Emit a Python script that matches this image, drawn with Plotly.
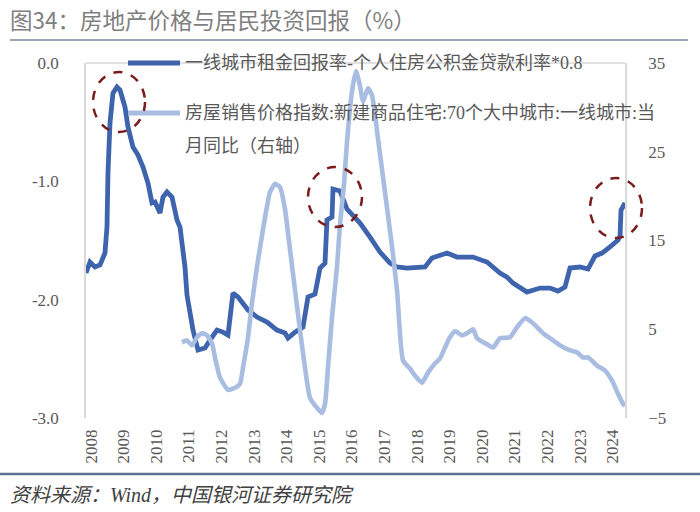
import plotly.graph_objects as go

# ---------------- data ----------------
rent_x = [2007.847, 2007.969, 2008.123, 2008.276, 2008.429, 2008.491, 2008.521, 2008.583, 2008.675, 2008.798,
          2008.890, 2009.043, 2009.135, 2009.288, 2009.442, 2009.595, 2009.748, 2009.871, 2009.963, 2010.117,
          2010.209, 2010.331, 2010.485, 2010.577, 2010.638, 2010.730, 2010.883, 2010.945, 2011.129, 2011.282,
          2011.497, 2011.650, 2011.865, 2012.049, 2012.202, 2012.356, 2012.509, 2012.816, 2013.092, 2013.399,
          2013.706, 2013.951, 2014.043, 2014.258, 2014.503, 2014.656, 2014.871, 2015.025, 2015.178, 2015.239,
          2015.393, 2015.423, 2015.638, 2015.853, 2016.252, 2016.558, 2016.865, 2017.172, 2017.387, 2017.693,
          2018.000, 2018.245, 2018.460, 2018.920, 2019.227, 2019.718, 2020.147, 2020.546, 2020.761, 2020.945,
          2021.374, 2021.558, 2021.773, 2022.080, 2022.325, 2022.540, 2022.693, 2023.000, 2023.245, 2023.460,
          2023.675, 2023.920, 2024.166, 2024.227, 2024.258, 2024.380]
rent_y = [-1.775, -1.682, -1.724, -1.707, -1.606, -1.386, -0.930, -0.507, -0.254, -0.203,
          -0.228, -0.372, -0.541, -0.710, -0.778, -0.879, -1.014, -1.183, -1.175, -1.268,
          -1.133, -1.090, -1.133, -1.268, -1.327, -1.386, -1.724, -1.961, -2.257, -2.426,
          -2.409, -2.342, -2.257, -2.274, -2.299, -1.944, -1.978, -2.088, -2.147, -2.190,
          -2.257, -2.282, -2.325, -2.274, -2.232, -1.978, -1.953, -1.733, -1.691, -1.327,
          -1.302, -1.065, -1.082, -1.234, -1.352, -1.471, -1.598, -1.691, -1.724, -1.733,
          -1.724, -1.724, -1.648, -1.606, -1.640, -1.640, -1.682, -1.775, -1.809, -1.860,
          -1.936, -1.919, -1.902, -1.902, -1.927, -1.893, -1.733, -1.724, -1.741, -1.631,
          -1.606, -1.555, -1.496, -1.462, -1.243, -1.183]

price_x = [2010.791, 2010.945, 2011.098, 2011.252, 2011.405, 2011.558, 2011.712, 2011.804, 2011.957, 2012.202,
           2012.417, 2012.571, 2012.663, 2012.816, 2012.939, 2013.092, 2013.276, 2013.491, 2013.644, 2013.798,
           2013.951, 2014.104, 2014.258, 2014.411, 2014.564, 2014.718, 2014.933, 2015.086, 2015.178, 2015.270,
           2015.393, 2015.546, 2015.638, 2015.761, 2015.853, 2016.006, 2016.129, 2016.252, 2016.344, 2016.497,
           2016.620, 2016.804, 2017.018, 2017.233, 2017.387, 2017.571, 2017.785, 2017.939, 2018.153, 2018.337,
           2018.552, 2018.706, 2018.859, 2019.012, 2019.166, 2019.380, 2019.534, 2019.718, 2019.840, 2020.147,
           2020.331, 2020.546, 2020.853, 2021.067, 2021.313, 2021.558, 2021.865, 2022.172, 2022.387, 2022.693,
           2022.908, 2023.092, 2023.245, 2023.521, 2023.767, 2023.982, 2024.166, 2024.319, 2024.380]
price_y = [3.52, 3.75, 3.18, 4.09, 4.55, 4.32, 3.41, 1.82, -0.45, -1.82,
           -1.59, -1.14, 0.68, 4.09, 7.95, 12.05, 16.25, 20.45, 21.36, 21.02,
           18.52, 13.98, 9.43, 4.89, 0.68, -2.73, -3.86, -4.43, -3.41, 0.68,
           6.36, 12.05, 16.82, 21.36, 26.14, 31.82, 34.09, 32.39, 30.68, 32.16,
           31.36, 26.48, 20.45, 14.32, 9.43, 1.48, 0.57, -0.23, -1.02, 0.11,
           1.14, 1.70, 2.95, 4.09, 4.77, 4.32, 4.55, 5.00, 3.98, 3.30,
           2.95, 3.98, 4.09, 5.23, 6.25, 5.68, 4.55, 3.75, 3.18, 2.61,
           2.39, 1.82, 1.82, 0.91, 0.34, -0.80, -2.27, -3.41, -3.64]

year_ticks = [2008 + i for i in range(17)]
year_labels = [str(y) for y in year_ticks]
left_ticks = [0, -1, -2, -3]
left_labels = ["0.0", "-1.0", "-2.0", "-3.0"]
right_ticks = [-5, 5, 15, 25, 35]

name_rent = "一线城市租金回报率-个人住房公积金贷款利率*0.8"
name_price_1 = "房屋销售价格指数:新建商品住宅:70个大中城市:一线城市:当"
name_price_2 = "月同比（右轴）"
title_text = "图34：房地产价格与居民投资回报（%）"
source_text = "<i>资料来源：Wind，中国银河证券研究院</i>"

# ---------------- styling ----------------
W, H = 700, 512
ML, MR, MT, MB = 86, 75, 63, 94
PW, PH = W - ML - MR, H - MT - MB
XR = [2007.847, 2024.38]
YL = [-3, 0]
YR = [-5, 35]
DARK = "#3d64ad"
LIGHT = "#a9bce2"
TXT = "#595959"
SERIF = "Liberation Serif, Noto Sans CJK SC, serif"
CJK = "Noto Sans CJK SC, sans-serif"


def px_x(px):
    return (px - ML) / PW


def px_y(py):
    return (H - MB - py) / PH


fig = go.Figure()
fig.add_trace(go.Scatter(x=rent_x, y=rent_y, mode="lines", name=name_rent,
                         line=dict(color=DARK, width=4.8), yaxis="y", showlegend=False))
fig.add_trace(go.Scatter(x=price_x, y=price_y, mode="lines", name=name_price_1 + name_price_2,
                         line=dict(color=LIGHT, width=4.6, shape="spline", smoothing=0.5),
                         yaxis="y2", showlegend=False))

shapes = []
# header rule, footer rule, top frame line
shapes.append(dict(type="line", xref="paper", yref="paper", x0=px_x(10), x1=px_x(688),
                   y0=px_y(40), y1=px_y(40), line=dict(color="#7d8a9a", width=1.5)))
shapes.append(dict(type="line", xref="paper", yref="paper", x0=px_x(0), x1=px_x(700),
                   y0=px_y(474), y1=px_y(474), line=dict(color="#5d7191", width=2.5)))
shapes.append(dict(type="line", xref="paper", yref="paper", x0=0, x1=1, y0=1, y1=1,
                   line=dict(color="#d9d9d9", width=1.5)))
# legend swatches
shapes.append(dict(type="line", xref="paper", yref="paper", x0=px_x(128), x1=px_x(180),
                   y0=px_y(63), y1=px_y(63), line=dict(color=DARK, width=5)))
shapes.append(dict(type="line", xref="paper", yref="paper", x0=px_x(128), x1=px_x(180),
                   y0=px_y(113), y1=px_y(113), line=dict(color=LIGHT, width=5)))


# highlight circles anchored to data points (converted to paper coords)
def to_paper(xv, yv):
    return (xv - XR[0]) / (XR[1] - XR[0]), (yv - YL[0]) / (YL[1] - YL[0])


peak1 = rent_y.index(max(rent_y[:15]))
peak2 = 51
last = len(rent_y) - 1
circle_specs = [(peak1, 2, -15, 26, 30), (peak2, 2, -8, 27, 30), (last, -9, -5, 26, 30)]
for idx, dx, dy, rx, ry in circle_specs:
    ax, ay = to_paper(rent_x[idx], rent_y[idx])
    shapes.append(dict(type="circle", xref="paper", yref="paper",
                       xsizemode="pixel", ysizemode="pixel", xanchor=ax, yanchor=ay,
                       x0=dx - rx, x1=dx + rx, y0=dy - ry, y1=dy + ry,
                       line=dict(color="#7a1c1c", width=2.5, dash="dash")))

annotations = [
    dict(text=title_text, xref="paper", yref="paper", x=px_x(8), y=px_y(19), xanchor="left",
         yanchor="middle", showarrow=False, font=dict(family=CJK, size=22.5, color="#7f7f7f")),
    dict(text=source_text, xref="paper", yref="paper", x=px_x(8), y=px_y(495), xanchor="left",
         yanchor="middle", showarrow=False, font=dict(family=SERIF, size=20, color="#404040")),
    dict(text=name_rent, xref="paper", yref="paper", x=px_x(183), y=px_y(63), xanchor="left",
         yanchor="middle", showarrow=False, font=dict(family=SERIF, size=18, color=TXT)),
    dict(text=name_price_1, xref="paper", yref="paper", x=px_x(183), y=px_y(113), xanchor="left",
         yanchor="middle", showarrow=False, font=dict(family=SERIF, size=18, color=TXT)),
    dict(text=name_price_2, xref="paper", yref="paper", x=px_x(183), y=px_y(146), xanchor="left",
         yanchor="middle", showarrow=False, font=dict(family=SERIF, size=18, color=TXT)),
]

fig.update_layout(
    width=W, height=H, margin=dict(l=ML, r=MR, t=MT, b=MB),
    paper_bgcolor="white", plot_bgcolor="white",
    xaxis=dict(range=XR, tickmode="array", tickvals=year_ticks, ticktext=year_labels,
               tickangle=-90, showgrid=False, zeroline=False, showline=False, ticks="",
               tickfont=dict(family=SERIF, size=17, color=TXT), ticklabelstandoff=7),
    yaxis=dict(range=YL, tickmode="array", tickvals=left_ticks, ticktext=left_labels,
               showgrid=False, zeroline=False, showline=True, linecolor="#d9d9d9", linewidth=1.5,
               ticks="", tickfont=dict(family=SERIF, size=17, color=TXT), ticklabelstandoff=22),
    yaxis2=dict(range=YR, tickmode="array", tickvals=right_ticks, overlaying="y", side="right",
                showgrid=False, zeroline=False, showline=True, linecolor="#d9d9d9", linewidth=1.5,
                ticks="", tickfont=dict(family=SERIF, size=17, color=TXT), ticklabelstandoff=18),
    shapes=shapes, annotations=annotations, showlegend=False,
)

fig.write_html("out.html")
